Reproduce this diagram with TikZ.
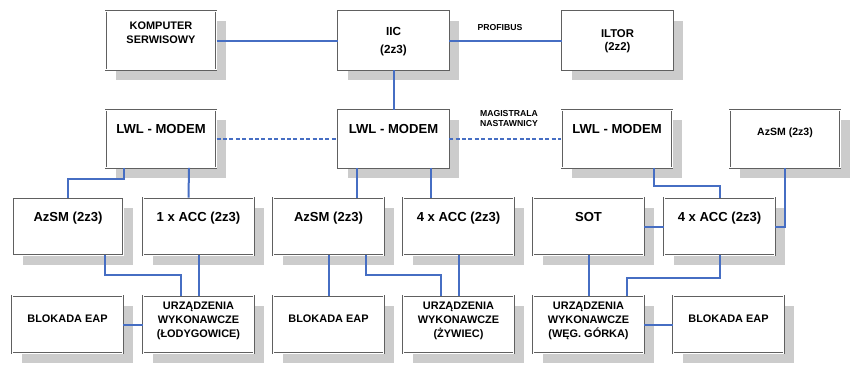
\documentclass[tikz,border=0pt]{standalone}
\usepackage{fontspec}
\setmainfont{Liberation Sans}
\usetikzlibrary{shadows}

\definecolor{busblue}{RGB}{70,110,195}
\tikzset{
  unit/.style={draw=gray!75!black, double=white, double distance=0.8pt, line width=0.45pt,
    fill=white, minimum width=83pt, minimum height=43pt, inner sep=0pt,
    drop shadow={shadow xshift=7.5pt, shadow yshift=-7.5pt, fill=gray!40, opacity=1}},
  txt/.style={anchor=north, inner sep=0pt, align=center, font=\bfseries\fontsize{9.8}{12}\selectfont},
  small/.style={font=\bfseries\fontsize{8.2}{10.5}\selectfont},
  bus/.style={busblue, line width=1.5pt},
  magistrala/.style={bus, dash pattern=on 3pt off 1.8pt},
  busnote/.style={inner sep=0pt, align=center, font=\bfseries\fontsize{6.5}{8.2}\selectfont}
}

\begin{document}
\begin{tikzpicture}[x=0.75pt,y=0.75pt,yscale=-1,xscale=1]
   \useasboundingbox (0,0) rectangle (854,368);

   % row 1
   \node[unit, minimum height=44pt, label={[txt, small, yshift=-8pt]north:KOMPUTER\\SERWISOWY}] (komp) at (161,40.5) {};
   \node[unit, minimum height=44pt, label={[txt, yshift=-12.5pt, font=\bfseries\fontsize{8.8}{13.2}\selectfont]north:IIC\\(2z3)}] (iic) at (393.5,40.5) {};
   \node[unit, minimum height=44pt, label={[txt, yshift=-13.5pt, font=\bfseries\fontsize{8.5}{10}\selectfont]north:ILTOR\\(2z2)}] (iltor) at (617.5,40.5) {};

   % row 2
   \node[unit, label={[txt, yshift=-10.5pt]north:LWL - MODEM}] (lwla) at (161,139) {};
   \node[unit, label={[txt, yshift=-10.5pt]north:LWL - MODEM}] (lwlb) at (393.5,139) {};
   \node[unit, label={[txt, yshift=-10.5pt]north:LWL - MODEM}] (lwlc) at (617,139) {};
   \node[unit, label={[txt, yshift=-13pt, font=\bfseries\fontsize{7.9}{9}\selectfont]north:AzSM (2z3)}] (azsmd) at (785,139) {};

   % row 3
   \node[unit, label={[txt, yshift=-11pt]north:AzSM (2z3)}] (azsma) at (68,226.5) {};
   \node[unit, label={[txt, yshift=-11pt]north:1 x ACC (2z3)}] (acca) at (198.5,226.5) {};
   \node[unit, label={[txt, yshift=-11pt]north:AzSM (2z3)}] (azsmb) at (328.5,226.5) {};
   \node[unit, label={[txt, yshift=-11pt]north:4 x ACC (2z3)}] (accb) at (458.5,226.5) {};
   \node[unit, label={[txt, yshift=-11pt]north:SOT}] (sot) at (588.5,226.5) {};
   \node[unit, label={[txt, yshift=-11pt]north:4 x ACC (2z3)}] (accc) at (719.5,226.5) {};

   % row 4
   \node[unit, label={[txt, small, yshift=-14pt]north:BLOKADA EAP}] (bloka) at (67.5,324.5) {};
   \node[unit, label={[txt, small, yshift=-4.8pt]north:URZĄDZENIA\\WYKONAWCZE\\(ŁODYGOWICE)}] (urza) at (198.5,324.5) {};
   \node[unit, label={[txt, small, yshift=-14pt]north:BLOKADA EAP}] (blokb) at (328.5,324.5) {};
   \node[unit, label={[txt, small, yshift=-4.8pt]north:URZĄDZENIA\\WYKONAWCZE\\(ŻYWIEC)}] (urzb) at (458.5,324.5) {};
   \node[unit, label={[txt, small, yshift=-4.8pt]north:URZĄDZENIA\\WYKONAWCZE\\(WĘG. GÓRKA)}] (urzc) at (588.5,324.5) {};
   \node[unit, label={[txt, small, yshift=-14pt]north:BLOKADA EAP}] (blokc) at (728.5,324.5) {};

   % bus labels
   \node[busnote] (profibus) at (500,27.5) {PROFIBUS};
   \node[busnote] (magnote) at (509,118.5) {MAGISTRALA\\NASTAWNICY};

   % links row 1 - 2
   \draw[bus] (komp.east) -- (iic.west);
   \draw[bus] (iic.east) -- (iltor.west);
   \draw[bus] (iic.south) -- (lwlb.north);
   \draw[magistrala] (lwla.east) -- (lwlb.west);
   \draw[magistrala] (lwlb.east) -- (lwlc.west);

   % links row 2 - 3
   \draw[bus] ([shift={(-37,0)}]lwla.south) -- ++(0,11) -| (azsma.north);
   \draw[bus] ([shift={(28,0)}]lwla.south) -- ([shift={(-10,0)}]acca.north);
   \draw[bus] ([shift={(-37,0)}]lwlb.south) -- ([shift={(28,0)}]azsmb.north);
   \draw[bus] ([shift={(37,0)}]lwlb.south) -- ([shift={(-28,0)}]accb.north);
   \draw[bus] ([shift={(37,0)}]lwlc.south) -- ++(0,18) -| (accc.north);
   \draw[bus] (azsmd.south) |- (accc.east);
   \draw[bus] (sot.east) -- (accc.west);

   % links row 3 - 4
   \draw[bus] ([shift={(37,0)}]azsma.south) -- ++(0,20) -| ([shift={(-18,0)}]urza.north);
   \draw[bus] (acca.south) -- (urza.north);
   \draw[bus] (bloka.east) -- (urza.west);
   \draw[bus] (azsmb.south) -- (blokb.north);
   \draw[bus] ([shift={(37,0)}]azsmb.south) -- ++(0,20) -| ([shift={(-18,0)}]urzb.north);
   \draw[bus] (accb.south) -- (urzb.north);
   \draw[bus] (sot.south) -- (urzc.north);
   \draw[bus] (accc.south) -- ++(0,23) -| ([shift={(38,0)}]urzc.north);
   \draw[bus] (urzc.east) -- (blokc.west);

\end{tikzpicture}
\end{document}
